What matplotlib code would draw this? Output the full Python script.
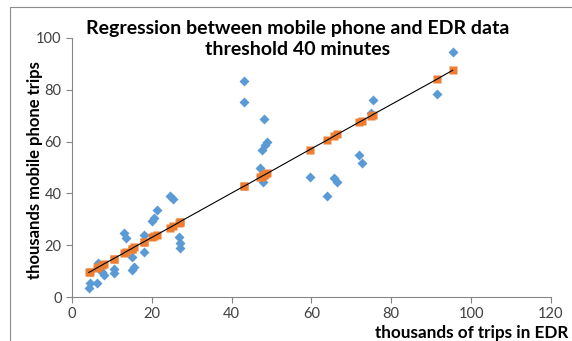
import matplotlib.pyplot as plt
from matplotlib.patches import Rectangle

# thousands of trips in EDR (x) and mobile phone trips (y)
edr = [4.2, 4.6, 6.3, 6.5, 7.5, 7.9, 10.4, 10.4, 12.9, 13.4, 15.0, 15.5, 15.0,
       18.0, 18.0, 20.0, 20.5, 21.3, 24.5, 25.3, 26.7, 27.1, 27.1,
       43.0, 43.2, 48.0, 48.9, 48.4, 47.5, 47.1, 47.9,
       59.6, 64.0, 65.7, 66.5, 72.0, 72.6, 75.4, 75.0, 91.4, 95.4]
mobile = [3.4, 5.3, 5.3, 13.0, 9.5, 8.5, 11.0, 9.4, 24.6, 22.7, 15.6, 11.7, 10.4,
          24.0, 17.5, 29.5, 30.4, 33.6, 39.0, 38.0, 23.3, 20.7, 18.8,
          83.5, 75.4, 68.7, 59.8, 58.5, 56.7, 49.7, 44.2,
          46.2, 39.0, 45.8, 44.5, 54.8, 51.6, 76.0, 71.0, 78.4, 94.7]
# predicted values (orange squares on the trend line)
predicted = [9.5, 9.8, 11.3, 11.5, 12.3, 12.7, 14.8, 14.8, 16.9, 17.4, 18.7, 19.2, 18.7,
             21.3, 21.3, 23.0, 23.4, 24.1, 26.8, 27.5, 28.7, 29.1, 29.1,
             42.7, 42.8, 46.9, 47.7, 47.3, 46.5, 46.2, 46.9,
             56.9, 60.6, 62.1, 62.8, 67.5, 68.0, 70.4, 70.0, 84.0, 87.5]

xticks = [0, 20, 40, 60, 80, 100, 120]
yticks = [0, 20, 40, 60, 80, 100]

plt.rcParams['font.family'] = ['Lato', 'DejaVu Sans']

fig = plt.figure(figsize=(5.72, 3.41), dpi=100)
ax = fig.add_axes([0.126, 0.129, 0.837, 0.760])

# chart area border
fig.patches.append(Rectangle((10 / 572, -0.2), 1.2, 1.2 - 7 / 341,
                             transform=fig.transFigure, fill=False,
                             edgecolor='#8c8c8c', lw=0.8))

ax.plot(edr, mobile, 'D', color='#5B9BD5', ms=5.5, mec='none', zorder=2)
ax.plot(edr, predicted, 's', color='#ED7D31', ms=6, mec='none', zorder=3)
pairs = sorted(zip(edr, predicted))
ax.plot([p[0] for p in pairs], [p[1] for p in pairs], color='black', lw=0.8, zorder=4)

ax.set_xlim(0, 120)
ax.set_ylim(0, 100)
ax.set_xticks(xticks)
ax.set_yticks(yticks)
for s in ['top', 'right']:
    ax.spines[s].set_visible(False)
for s in ['left', 'bottom']:
    ax.spines[s].set_color('#868686')
ax.tick_params(colors='#868686', labelcolor='#404040', labelsize=10.5, length=4, width=0.8)

fig.text(0.521, 0.885, 'Regression between mobile phone and EDR data\nthreshold 40 minutes',
         ha='center', va='center', fontsize=14, fontweight='bold', linespacing=1.25)
fig.text(0.062, 0.50, 'thousands mobile phone trips', rotation=90, ha='center', va='center',
         fontsize=12, fontweight='bold')
fig.text(0.655, 0.022, 'thousands of trips in EDR', ha='left', va='center',
         fontsize=12.3, fontweight='bold')

fig.savefig('out.png', dpi=100)
